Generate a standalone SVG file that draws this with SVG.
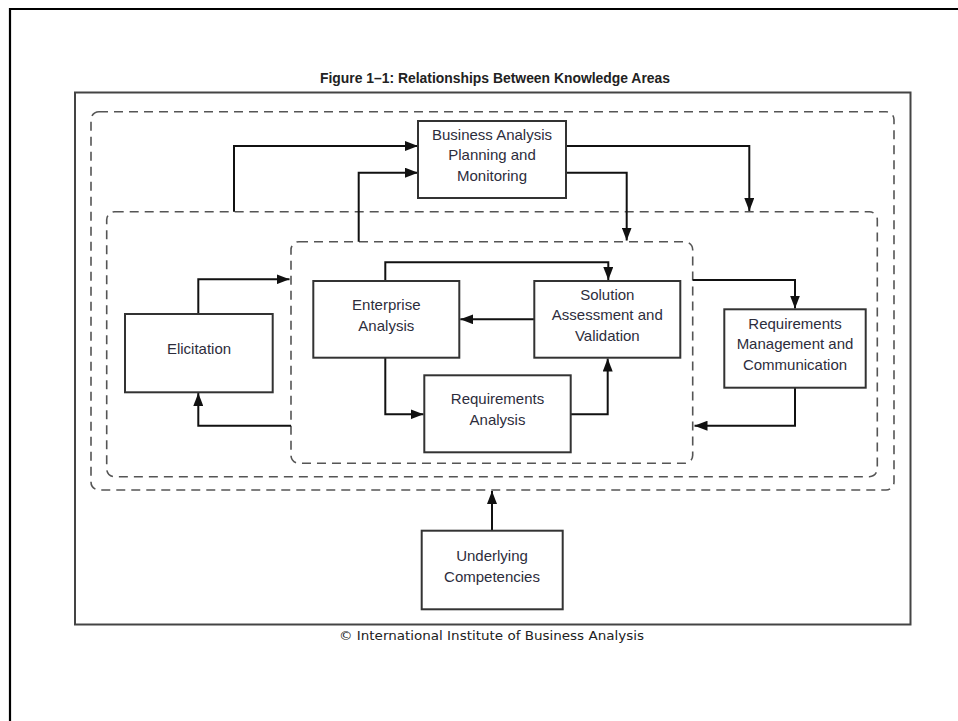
<svg xmlns="http://www.w3.org/2000/svg" width="958" height="721" viewBox="0 0 958 721">
<style>
.box{fill:#fff;stroke:#333;stroke-width:2}
.dash{fill:none;stroke:#555;stroke-width:1.6;stroke-dasharray:9 6}
.con{fill:none;stroke:#111;stroke-width:2}
.lbl{font-family:"Liberation Sans",Arial,sans-serif;font-size:15px;fill:#2d2d3c;text-anchor:middle}
</style>
<defs>
<marker id="ah" markerUnits="userSpaceOnUse" markerWidth="13" markerHeight="10" refX="13" refY="5" orient="auto">
<path d="M0,0 L13,5 L0,10 z" fill="#111"/>
</marker>
</defs>
<rect width="958" height="721" fill="#fff"/>
<path d="M10,721 V9 H958" fill="none" stroke="#000" stroke-width="2.2"/>
<text x="495" y="83" text-anchor="middle" textLength="350" lengthAdjust="spacingAndGlyphs" font-family="Liberation Sans,Arial,sans-serif" font-weight="bold" font-size="14" fill="#222">Figure 1–1: Relationships Between Knowledge Areas</text>
<rect x="75" y="92.5" width="835.5" height="532" fill="none" stroke="#444" stroke-width="2"/>
<g id="containers">
<rect class="dash" x="91" y="111.7" width="803" height="378.3" rx="8"/>
<rect class="dash" x="106.7" y="211.7" width="770.6" height="265" rx="8"/>
<rect class="dash" x="291" y="241.7" width="401.7" height="221.6" rx="8"/>
</g>
<g id="connectors">
<path class="con" d="M234,211.7 V146 H418" marker-end="url(#ah)"/>
<path class="con" d="M358.7,241.7 V172.7 H418" marker-end="url(#ah)"/>
<path class="con" d="M566,146 H749.3 V211" marker-end="url(#ah)"/>
<path class="con" d="M566,172.7 H626.7 V240.5" marker-end="url(#ah)"/>
<path class="con" d="M198.3,314 V279.3 H289.5" marker-end="url(#ah)"/>
<path class="con" d="M291,425.7 H198.3 V393" marker-end="url(#ah)"/>
<path class="con" d="M385.3,281 V262.3 H608.3 V280" marker-end="url(#ah)"/>
<path class="con" d="M534.3,319.3 H460.3" marker-end="url(#ah)"/>
<path class="con" d="M385.3,357.7 V414.3 H423.5" marker-end="url(#ah)"/>
<path class="con" d="M570.7,414.3 H607.7 V358.5" marker-end="url(#ah)"/>
<path class="con" d="M692.7,280 H795 V308.5" marker-end="url(#ah)"/>
<path class="con" d="M795,387.7 V425.7 H694.5" marker-end="url(#ah)"/>
<path class="con" d="M492,530.7 V491" marker-end="url(#ah)"/>
</g>
<g id="bapm">
<rect class="box" x="418" y="121" width="148" height="77"/>
<text class="lbl" x="492" y="139.5">Business Analysis</text>
<text class="lbl" x="492" y="160">Planning and</text>
<text class="lbl" x="492" y="180.5">Monitoring</text>
</g>
<g id="elicitation">
<rect class="box" x="125" y="314" width="147.7" height="78.3"/>
<text class="lbl" x="199" y="353.5">Elicitation</text>
</g>
<g id="enterprise">
<rect class="box" x="313.3" y="281" width="146" height="76.7"/>
<text class="lbl" x="386.3" y="310">Enterprise</text>
<text class="lbl" x="386.3" y="331">Analysis</text>
</g>
<g id="solution">
<rect class="box" x="534.3" y="281" width="146" height="76.7"/>
<text class="lbl" x="607.3" y="299.5">Solution</text>
<text class="lbl" x="607.3" y="320">Assessment and</text>
<text class="lbl" x="607.3" y="340.5">Validation</text>
</g>
<g id="reqanalysis">
<rect class="box" x="424.3" y="375.3" width="146.4" height="77"/>
<text class="lbl" x="497.5" y="403.5">Requirements</text>
<text class="lbl" x="497.5" y="425">Analysis</text>
</g>
<g id="rmc">
<rect class="box" x="724.3" y="309.3" width="141.4" height="78.4"/>
<text class="lbl" x="795" y="328.5">Requirements</text>
<text class="lbl" x="795" y="349">Management and</text>
<text class="lbl" x="795" y="370">Communication</text>
</g>
<g id="underlying">
<rect class="box" x="421.7" y="530.7" width="141" height="78.6"/>
<text class="lbl" x="492" y="561">Underlying</text>
<text class="lbl" x="492" y="582">Competencies</text>
</g>
<text x="339" y="640" textLength="305" lengthAdjust="spacingAndGlyphs" font-family="DejaVu Sans,Verdana,sans-serif" font-size="13" fill="#222">© International Institute of Business Analysis</text>
</svg>
